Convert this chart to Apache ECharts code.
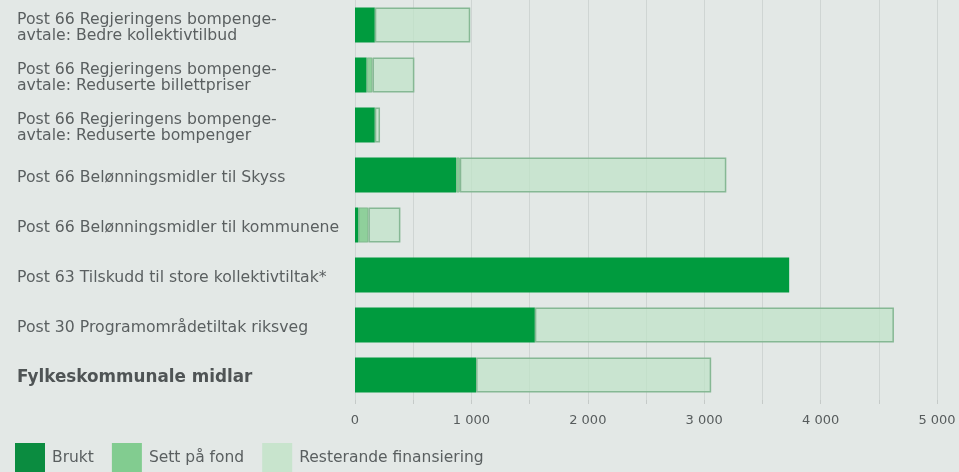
<!DOCTYPE html>
<html><head><meta charset="utf-8">
<script src="https://cdn.jsdelivr.net/npm/echarts@6/dist/echarts.min.js"></script>
<style>html,body{margin:0;padding:0;background:#e3e8e6;}#c{width:959px;height:472px;}</style>
</head><body><div id="c"></div>
<script>
const categories = [
  "Post 66 Regjeringens bompenge-\navtale: Bedre kollektivtilbud",
  "Post 66 Regjeringens bompenge-\navtale: Reduserte billettpriser",
  "Post 66 Regjeringens bompenge-\navtale: Reduserte bompenger",
  "Post 66 Belønningsmidler til Skyss",
  "Post 66 Belønningsmidler til kommunene",
  "Post 63 Tilskudd til store kollektivtiltak*",
  "Post 30 Programområdetiltak riksveg",
  "Fylkeskommunale midlar"
];
const brukt = [170, 100, 170, 870, 30, 3730, 1545, 1040];
const settPaFond = [0, 50, 0, 30, 85, 0, 0, 0];
const resterande = [820, 360, 45, 2290, 275, 0, 3085, 2020];
const seriesNames = ["Brukt", "Sett på fond", "Resterande finansiering"];
const xTicks = [0, 1000, 2000, 3000, 4000, 5000];

const font = "DejaVu Sans";
const nz = arr => arr.map(v => (v === 0 ? null : v));
const chart = echarts.init(document.getElementById('c'));
chart.setOption({
  backgroundColor: '#e3e8e6',
  animation: false,
  grid: { left: 355, right: 22, top: 0, bottom: 72 },
  legend: {
    left: 15, top: 443, padding: 0, itemWidth: 30, itemHeight: 30, itemGap: 18,
    icon: 'rect',
    textStyle: { fontFamily: font, fontSize: 15.5, color: '#5a5f60', padding: [0, 0, 0, 2] },
    data: [
      { name: seriesNames[0], itemStyle: { color: '#0b8c40', borderWidth: 0 } },
      { name: seriesNames[1], itemStyle: { color: '#82cc90', borderWidth: 0 } },
      { name: seriesNames[2], itemStyle: { color: '#c8e4cd', borderWidth: 0 } }
    ]
  },
  xAxis: {
    type: 'value', min: 0, max: 5000, interval: 500,
    axisLine: { show: false },
    axisTick: { show: true, length: 4, lineStyle: { color: '#c5cac8' } },
    splitLine: { show: true, lineStyle: { color: '#cfd5d3', width: 1 } },
    axisLabel: {
      margin: 14, fontFamily: font, fontSize: 13, color: '#575c5d',
      formatter: v => xTicks.includes(v) ? (v >= 1000 ? String(v).replace(/\B(?=(\d{3})+(?!\d))/g, ' ') : String(v)) : ''
    }
  },
  yAxis: {
    type: 'category', data: categories, inverse: true,
    axisLine: { show: false }, axisTick: { show: false },
    axisLabel: {
      align: 'left', margin: 338, fontFamily: font, fontSize: 15.7, color: '#5a5f60', lineHeight: 16,
      padding: [6, 0, 0, 0],
      formatter: (v, i) => i === categories.length - 1 ? '{b|' + v + '}' : v,
      rich: { b: { fontFamily: font, fontSize: 16.8, fontWeight: 'bold', color: '#4f5455' } }
    }
  },
  series: [
    { name: seriesNames[0], type: 'bar', stack: 's', data: nz(brukt), barWidth: 35,
      itemStyle: { color: '#009b3e' } },
    { name: seriesNames[1], type: 'bar', stack: 's', data: nz(settPaFond), barWidth: 35,
      itemStyle: { color: '#8fd09b', borderColor: '#7fb98c', borderWidth: 1 } },
    { name: seriesNames[2], type: 'bar', stack: 's', data: nz(resterande), barWidth: 35,
      itemStyle: { color: 'rgba(190,226,198,0.7)', borderColor: '#86b894', borderWidth: 1.5 } }
  ]
});
</script></body></html>
